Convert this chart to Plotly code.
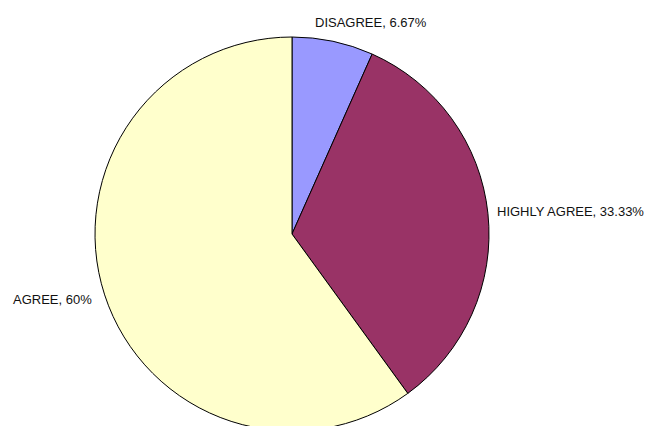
import math
import plotly.graph_objects as go

labels = ["DISAGREE", "HIGHLY AGREE", "AGREE"]
values = [6.67, 33.33, 60]
label_text = ["DISAGREE, 6.67%", "HIGHLY AGREE, 33.33%", "AGREE, 60%"]
colors = ["#9999FF", "#993366", "#FFFFCC"]

W, H = 649, 436  # slightly taller than the window so the pie bottom is clipped as in the reference
cx_px, cy_px, R_px = 292, 234, 197
dom_x = [cx_px / W - 0.35, cx_px / W + 0.35]
dom_y = [(H - cy_px - R_px) / H, (H - cy_px + R_px) / H]

fig = go.Figure(go.Pie(
    labels=labels, values=values, sort=False, direction="clockwise", rotation=0,
    marker=dict(colors=colors, line=dict(color="black", width=1)),
    textinfo="none", hoverinfo="label+percent", showlegend=False,
    domain=dict(x=dom_x, y=dom_y),
))

# pie geometry in pixels (margins are zero)
cx = (dom_x[0] + dom_x[1]) / 2 * W
cy = H - (dom_y[0] + dom_y[1]) / 2 * H
R = min((dom_x[1] - dom_x[0]) * W, (dom_y[1] - dom_y[0]) * H) / 2

# label placement styles: (xanchor, yanchor, xshift, yshift)
styles = [("left", "bottom", -22, -1), ("left", "middle", -4, 1), ("right", "middle", 0, -1)]
total = sum(values)
cum = 0
for v, t, st in zip(values, label_text, styles):
    mid = (cum + v / 2) / total * 2 * math.pi
    cum += v
    r = R + 11
    px = cx + math.sin(mid) * r
    py = cy - math.cos(mid) * r
    fig.add_annotation(x=px / W, y=1 - py / H, xref="paper", yref="paper",
                       text=t, showarrow=False, xanchor=st[0], yanchor=st[1],
                       xshift=st[2], yshift=st[3],
                       font=dict(family="Liberation Sans, Arial", size=13, color="#111111"))

fig.update_layout(width=W, height=H, margin=dict(l=0, r=0, t=0, b=0),
                  paper_bgcolor="white", plot_bgcolor="white")
fig.write_html("out.html", config={"displayModeBar": False},
               post_script="document.body.style.margin='0';document.body.style.overflow='hidden';")
